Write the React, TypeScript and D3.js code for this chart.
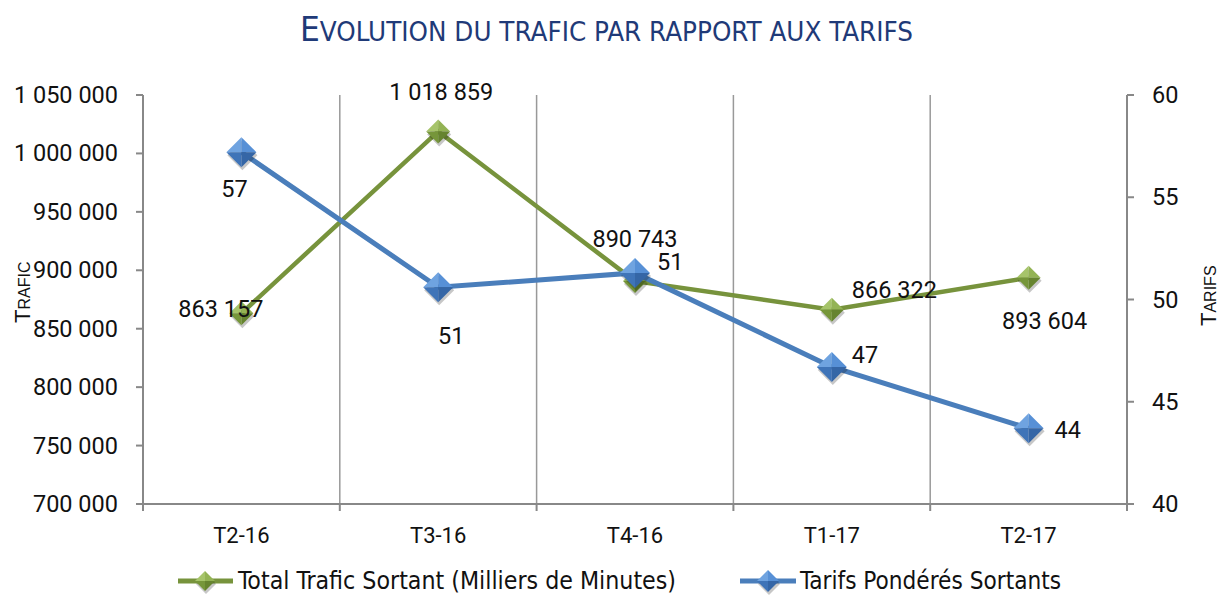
import React from "react";
import * as d3 from "d3";

const categories = ["T2-16", "T3-16", "T4-16", "T1-17", "T2-17"];
const trafic = [863157, 1018859, 890743, 866322, 893604];
const tarifs = [57.2, 50.6, 51.3, 46.7, 43.7];
const tarifLabels = [57, 51, 51, 47, 44];
const leftTicks = [700000, 750000, 800000, 850000, 900000, 950000, 1000000, 1050000];
const rightTicks = [40, 45, 50, 55, 60];

// label offsets relative to the point: [dx, dy, anchor]
const traficLabelOffsets: [number, number, "start" | "middle" | "end"][] = [
  [22, 4, "end"],
  [3, -31, "middle"],
  [0, -34, "middle"],
  [20, -12, "start"],
  [16, 51, "middle"],
];
const tarifLabelOffsets: [number, number, "start" | "middle" | "end"][] = [
  [-7, 45, "middle"],
  [13, 57, "middle"],
  [22, -3, "start"],
  [20, -4, "start"],
  [26, 10, "start"],
];

const W = 1220, H = 595;
const L = 143, R = 1127, T = 95, B = 504;

const fmt = (v: number) => d3.format(",")(v).replace(/,/g, " ");

function Diamond({ x, y, r, colors }: { x: number; y: number; r: number; colors: string[] }) {
  const top = [x, y - r], right = [x + r, y], bottom = [x, y + r], left = [x - r, y];
  const c = [x, y];
  const tri = (a: number[], b: number[]) => `M${c[0]},${c[1]}L${a[0]},${a[1]}L${b[0]},${b[1]}Z`;
  return (
    <g>
      <path d={`M${x + 1},${y - r + 3}L${x + r + 1},${y + 3}L${x + 1},${y + r + 3}L${x - r + 1},${y + 3}Z`} fill="rgba(0,0,0,0.22)" />
      <path d={tri(left, top)} fill={colors[0]} />
      <path d={tri(top, right)} fill={colors[1]} />
      <path d={tri(right, bottom)} fill={colors[3]} />
      <path d={tri(bottom, left)} fill={colors[2]} />
    </g>
  );
}

export default function App() {
  const x = d3.scaleBand<string>().domain(categories).range([L, R]);
  const yL = d3.scaleLinear().domain([700000, 1050000]).range([B, T]);
  const yR = d3.scaleLinear().domain([40, 60]).range([B, T]);
  const cx = (c: string) => (x(c) as number) + x.bandwidth() / 2;

  const lineL = d3.line<number>().x((_, i) => cx(categories[i])).y((d) => yL(d));
  const lineR = d3.line<number>().x((_, i) => cx(categories[i])).y((d) => yR(d));

  const green = "#77933C";
  const blue = "#4A7EBB";
  const greenShades = ["#A6C46A", "#93B354", "#76963A", "#66842F"];
  const blueShades = ["#6FA3E0", "#5790D6", "#3F74B8", "#3566A6"];

  const boundaries = categories.map((c) => x(c) as number).concat([R]);
  const narrow = "'Liberation Sans Narrow', 'DejaVu Sans Condensed', sans-serif";

  return (
    <svg width={W} height={H} style={{ display: "block", position: "absolute", left: 0, top: 0 }} fontFamily="Roboto, 'Liberation Sans', sans-serif">
      <rect width={W} height={H} fill="#fff" />
      {/* title */}
      <text x={300} y={41} fill="#1F3A78" fontFamily={narrow} textLength={613} lengthAdjust="spacingAndGlyphs">
        <tspan fontSize={33}>E</tspan>
        <tspan fontSize={26}>VOLUTION DU TRAFIC PAR RAPPORT AUX TARIFS</tspan>
      </text>

      {/* vertical gridlines */}
      {boundaries.slice(1, -1).map((bx, i) => (
        <line key={i} x1={bx} x2={bx} y1={T} y2={B} stroke="#999" strokeWidth={1.5} />
      ))}

      {/* left axis */}
      <line x1={L} x2={L} y1={T} y2={B + 7} stroke="#888" strokeWidth={2} />
      {leftTicks.map((t) => (
        <g key={t}>
          <line x1={L - 7} x2={L} y1={yL(t)} y2={yL(t)} stroke="#888" strokeWidth={2} />
          <text x={118} y={yL(t) + 8} textAnchor="end" fontSize={23.5} fill="#111">{fmt(t)}</text>
        </g>
      ))}
      {/* right axis */}
      <line x1={R} x2={R} y1={T} y2={B + 7} stroke="#888" strokeWidth={2} />
      {rightTicks.map((t) => (
        <g key={t}>
          <line x1={R} x2={R + 7} y1={yR(t)} y2={yR(t)} stroke="#888" strokeWidth={2} />
          <text x={1152} y={yR(t) + 8} textAnchor="start" fontSize={23.5} fill="#111">{t}</text>
        </g>
      ))}
      {/* bottom axis */}
      <line x1={L - 7} x2={R + 7} y1={B} y2={B} stroke="#888" strokeWidth={2} />
      {boundaries.map((bx, i) => (
        <line key={i} x1={bx} x2={bx} y1={B} y2={B + 7} stroke="#888" strokeWidth={2} />
      ))}
      {categories.map((c) => (
        <text key={c} x={cx(c)} y={543} textAnchor="middle" fontSize={22} fill="#111">{c}</text>
      ))}

      {/* axis titles */}
      <text transform="translate(30,323) rotate(-90)" fill="#111" fontFamily="'Liberation Sans', sans-serif">
        <tspan fontSize={22}>T</tspan>
        <tspan fontSize={16}>RAFIC</tspan>
      </text>
      <text transform="translate(1216,326) rotate(-90)" fill="#111" fontFamily="'Liberation Sans', sans-serif">
        <tspan fontSize={22}>T</tspan>
        <tspan fontSize={16}>ARIFS</tspan>
      </text>

      {/* lines */}
      <path d={lineL(trafic) || ""} fill="none" stroke={green} strokeWidth={4.5} />
      {trafic.map((v, i) => (
        <Diamond key={i} x={cx(categories[i])} y={yL(v)} r={12} colors={greenShades} />
      ))}
      <path d={lineR(tarifs) || ""} fill="none" stroke={blue} strokeWidth={5} />
      {tarifs.map((v, i) => (
        <Diamond key={i} x={cx(categories[i])} y={yR(v)} r={15} colors={blueShades} />
      ))}

      {/* labels */}
      {trafic.map((v, i) => {
        const [dx, dy, anchor] = traficLabelOffsets[i];
        return <text key={i} x={cx(categories[i]) + dx} y={yL(v) + dy} textAnchor={anchor} fontSize={23.5} fill="#111">{fmt(v)}</text>;
      })}
      {tarifs.map((v, i) => {
        const [dx, dy, anchor] = tarifLabelOffsets[i];
        return <text key={i} x={cx(categories[i]) + dx} y={yR(v) + dy} textAnchor={anchor} fontSize={23.5} fill="#111">{tarifLabels[i]}</text>;
      })}

      {/* legend */}
      <line x1={178} x2={233} y1={581} y2={581} stroke={green} strokeWidth={5} />
      <Diamond x={205} y={581} r={10} colors={greenShades} />
      <text x={238} y={589} fontSize={24} fill="#111" fontFamily={narrow} textLength={438} lengthAdjust="spacingAndGlyphs">Total Trafic Sortant (Milliers de Minutes)</text>
      <line x1={740} x2={796} y1={581} y2={581} stroke={blue} strokeWidth={5} />
      <Diamond x={768} y={581} r={11} colors={blueShades} />
      <text x={800} y={589} fontSize={24} fill="#111" fontFamily={narrow} textLength={261} lengthAdjust="spacingAndGlyphs">Tarifs Pondérés Sortants</text>
    </svg>
  );
}
